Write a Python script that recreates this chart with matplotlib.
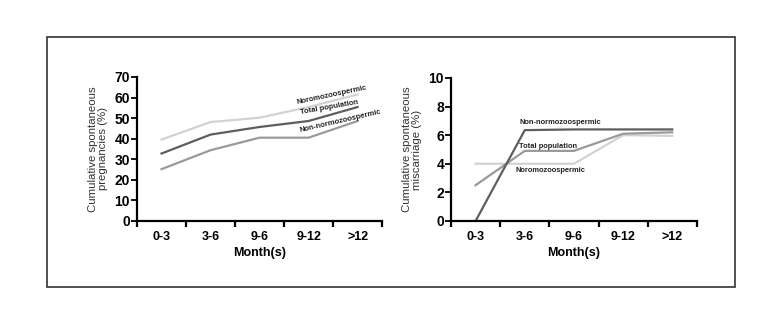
import matplotlib.pyplot as plt
import matplotlib.patches as patches
import numpy as np

plt.rcParams['font.family'] = ['Liberation Sans', 'DejaVu Sans']

months = ['0-3', '3-6', '9-6', '9-12', '>12']

# cumulative spontaneous pregnancies (%)
preg_normo = [39.6, 48.1, 50.2, 55.4, 61.5]
preg_total = [32.8, 42.0, 45.7, 48.6, 55.4]
preg_non = [25.2, 34.4, 40.5, 40.5, 48.6]

# cumulative spontaneous miscarriage (%)
misc_normo = [4.0, 4.0, 4.0, 6.0, 5.95]
misc_total = [2.5, 4.9, 4.9, 6.1, 6.2]
misc_non = [0.0, 6.35, 6.4, 6.4, 6.4]

c_light = '#d2d2d2'
c_mid = '#9a9a9a'
c_dark = '#5e5e5e'

fig = plt.figure(figsize=(7.83, 3.13), dpi=100)

# outer frame
fig.add_artist(patches.Rectangle((0.060, 0.083), 0.879, 0.799, transform=fig.transFigure,
                                 fill=False, ec='#333333', lw=1.2))

ax1 = fig.add_axes([0.175, 0.294, 0.313, 0.46])
ax2 = fig.add_axes([0.576, 0.294, 0.314, 0.457])

x = np.arange(len(months))


def style_axis(ax, ymax, ystep, ylabel):
    ax.set_xlim(-0.5, len(months) - 0.5)
    ax.set_ylim(0, ymax)
    for s in ['top', 'right']:
        ax.spines[s].set_visible(False)
    for s in ['left', 'bottom']:
        ax.spines[s].set_linewidth(1.6)
    ax.set_yticks(np.arange(0, ymax + 0.01, ystep))
    ax.set_xticks(np.arange(-0.5, len(months)), minor=False)
    ax.set_xticklabels([])
    ax.set_xticks(x, minor=True)
    ax.set_xticklabels(months, minor=True, fontsize=9, fontweight='bold')
    ax.tick_params(axis='x', which='minor', length=0, pad=7)
    ax.tick_params(axis='x', which='major', length=4, width=1.6, direction='out')
    ax.tick_params(axis='y', length=4, width=1.3, labelsize=10, pad=1)
    for t in ax.get_yticklabels():
        t.set_fontweight('bold')
    ax.set_xlabel('Month(s)', fontsize=9, fontweight='bold', labelpad=3)
    ax.set_ylabel(ylabel, fontsize=8.2, color='#333333', labelpad=5, linespacing=1.0)


ax1.plot(x, preg_normo, color=c_light, lw=1.6)
ax1.plot(x, preg_total, color=c_dark, lw=1.6)
ax1.plot(x, preg_non, color=c_mid, lw=1.6)
style_axis(ax1, 70, 10, 'Cumulative spontaneous\npregnancies (%)')

ax1.text(3.48, 61.2, 'Noromozoospermic', fontsize=5.5, fontweight='bold', rotation=12,
         ha='center', va='center', color='#222222')
ax1.text(3.42, 55.3, 'Total population', fontsize=5.5, fontweight='bold', rotation=10,
         ha='center', va='center', color='#222222')
ax1.text(3.66, 48.5, 'Non-normozoospermic', fontsize=5.5, fontweight='bold', rotation=13,
         ha='center', va='center', color='#222222')

ax2.plot(x, misc_normo, color=c_light, lw=1.6)
ax2.plot(x, misc_total, color=c_mid, lw=1.6)
ax2.plot(x, misc_non, color=c_dark, lw=1.6)
style_axis(ax2, 10, 2, 'Cumulative spontaneous\nmiscarriage (%)')

ax2.text(0.90, 6.85, 'Non-normozoospermic', fontsize=5.4, fontweight='bold',
         ha='left', va='center', color='#222222')
ax2.text(0.88, 5.24, 'Total population', fontsize=5.4, fontweight='bold',
         ha='left', va='center', color='#222222')
ax2.text(0.82, 3.5, 'Noromozoospermic', fontsize=5.4, fontweight='bold',
         ha='left', va='center', color='#222222')

fig.savefig('out.png', dpi=100)
